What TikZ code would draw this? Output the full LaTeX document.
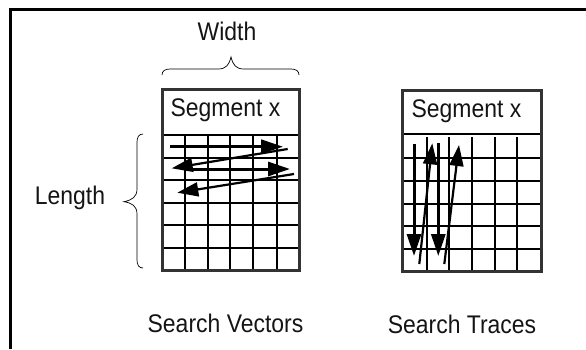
\documentclass[tikz,border=0pt]{standalone}
\usepackage{fontspec}
\setmainfont[FakeStretch=0.9]{Liberation Sans}
\usetikzlibrary{arrows.meta}
\definecolor{boxgray}{HTML}{333333}
\tikzset{
  x=1bp,y=-1bp,
  frameline/.style={line width=3bp,black},
  boxline/.style={line width=3bp,boxgray},
  gridline/.style={line width=2bp,black},
  bracket/.style={line width=0.7bp,black},
  label/.style={inner sep=0pt,font=\fontsize{25.6}{27}\selectfont,text=black!92},
  thickarrow/.style={line width=3bp,black,-{Triangle[length=22bp,width=14bp]}},
  thinarrow/.style={line width=2.2bp,black,-{Triangle[length=21bp,width=14bp]}},
}
\begin{document}
\begin{tikzpicture}
\useasboundingbox (0,0) rectangle (586,349);
\draw[frameline] (10.5,349) -- (10.5,9.5) -- (586,9.5);
% left box
\foreach \y in {135,157.7,179.5,202.7,225,248} \draw[gridline] (162,\y) -- (299,\y);
\foreach \x in {185,208,230,253,276.7} \draw[gridline] (\x,135) -- (\x,270.7);
\draw[boxline] (162,89.5) rectangle (299,270.7);
% right box
\foreach \y in {134.3,157.7,180.7,204,226,249.3} \draw[gridline] (402.7,\y) -- (541,\y);
\foreach \x in {426.7,448.7,471.7,494.7,517} \draw[gridline] (\x,137) -- (\x,271.7);
\draw[boxline] (402.7,90.7) rectangle (541,271.7);
% braces
\draw[bracket] (162,75) .. controls (162,71) and (165,69) .. (170,69) -- (218,69) .. controls (226,69) and (229,65) .. (231,57) .. controls (233,65) and (236,69) .. (244,69) -- (291,69) .. controls (296,69) and (299,71) .. (299,75);
\draw[bracket] (143,134) .. controls (139,134) and (137,137) .. (137,142) -- (137,189) .. controls (137,197) and (132,200) .. (124,201.7) .. controls (132,203) and (137,206) .. (137,214) -- (137,260) .. controls (137,265) and (139,268) .. (143,268);
% arrows left
\coordinate (a1s) at (170,146.7); \coordinate (a1e) at (283,146.7);
\coordinate (a2s) at (287.7,149); \coordinate (a2e) at (171.7,168.3);
\coordinate (a3s) at (187,169); \coordinate (a3e) at (290,169);
\coordinate (a4s) at (294,174); \coordinate (a4e) at (177.3,192.7);
\draw[thickarrow] (a1s) -- (a1e);
\draw[thickarrow] (a3s) -- (a3e);
\draw[thinarrow] (a2s) -- (a2e);
\draw[thinarrow] (a4s) -- (a4e);
% arrows right
\coordinate (b1s) at (414,144); \coordinate (b1e) at (414,256);
\coordinate (b2s) at (419.3,264); \coordinate (b2e) at (432.3,143.3);
\coordinate (b3s) at (438.3,143); \coordinate (b3e) at (438.3,256);
\coordinate (b4s) at (444.3,264); \coordinate (b4e) at (459,145);
\draw[thickarrow] (b1s) -- (b1e);
\draw[thickarrow] (b3s) -- (b3e);
\draw[thinarrow] (b2s) -- (b2e);
\draw[thinarrow] (b4s) -- (b4e);
% labels
\node[label] (width) at (227,31) {Width};
\node[label] (seg1) at (225.5,110) {Segment x};
\node[label] (seg2) at (466.5,111) {Segment x};
\node[label] (length) at (70,198) {Length};
\node[label] (vec) at (225.5,323) {Search Vectors};
\node[label] (tra) at (462,324) {Search Traces};
\end{tikzpicture}
\end{document}
